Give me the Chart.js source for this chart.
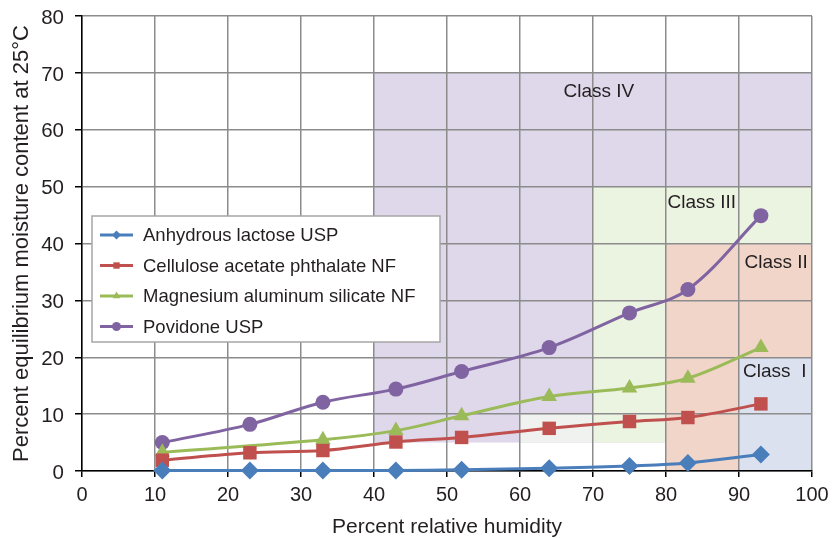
<!DOCTYPE html>
<html>
<head>
<meta charset="utf-8">
<script src="https://cdn.jsdelivr.net/npm/chart.js@4"></script>
<style>
  html, body { margin: 0; padding: 0; background: #fff; }
  #wrap { width: 832px; height: 538px; }
</style>
</head>
<body>
<div id="wrap"><canvas id="chart" width="832" height="538"></canvas></div>
<script>
// relative humidity (%) at which each sample was measured
const humidity = [11, 23, 33, 43, 52, 64, 75, 83, 93];

// equilibrium moisture content (%) at 25 °C
const lactose = [0.1, 0.1, 0.1, 0.1, 0.2, 0.5, 0.9, 1.4, 2.9];
const celluloseAcetate = [1.9, 3.2, 3.6, 5.1, 5.9, 7.5, 8.7, 9.4, 11.8];
const magnesiumSilicate = [3.3, null, 5.5, 7.1, 9.7, 13.1, 14.6, 16.3, 21.7];
const povidone = [5.0, 8.2, 12.1, 14.4, 17.5, 21.7, 27.8, 31.9, 44.9];

const seriesNames = [
  'Anhydrous lactose USP',
  'Cellulose acetate phthalate NF',
  'Magnesium aluminum silicate NF',
  'Povidone USP'
];

// hygroscopicity zones, in axis units (drawn in this order)
const zoneFromX = [40, 60, 70, 80, 90];
const zoneToX   = [100, 70, 100, 100, 100];
const zoneFromY = [5, 5, 5, 0, 0];
const zoneToY   = [70, 10, 50, 40, 20];
const zoneFill  = ['#dfd7ea', '#f0f2ef', '#ebf3e1', '#f1d5c9', '#dce1f0'];

const classNames = ['Class IV', 'Class III', 'Class II', 'Class  I'];
const classX = [70.8, 84.9, 95.1, 94.9];
const classY = [66.7, 47.1, 36.6, 17.4];

const xTicks = [0, 10, 20, 30, 40, 50, 60, 70, 80, 90, 100];
const yTicks = [0, 10, 20, 30, 40, 50, 60, 70, 80];

const FONT = '"Liberation Sans", Arial, Helvetica, sans-serif';
const TEXT = '#231f20';

const colors = ['#4a7ebb', '#c0504d', '#9bbb59', '#8064a2'];
const shapes = ['rectRot', 'rect', 'triangle', 'circle'];
const radii = [9, 9.5, 9, 7.5];

function series(i, data) {
  return {
    label: seriesNames[i],
    data: humidity.map((x, k) => ({ x: x, y: data[k] })),
    borderColor: colors[i],
    backgroundColor: colors[i],
    borderWidth: 3,
    pointStyle: shapes[i],
    pointRadius: radii[i],
    pointHoverRadius: radii[i],
    pointBorderWidth: 0,
    tension: 0.35,
    spanGaps: true,
    clip: false
  };
}

// coloured class zones under the grid
const zonesPlugin = {
  id: 'zones',
  beforeDraw(chart) {
    const { ctx, scales: { x, y } } = chart;
    ctx.save();
    for (let i = 0; i < zoneFill.length; i++) {
      const l = x.getPixelForValue(zoneFromX[i]);
      const r = x.getPixelForValue(zoneToX[i]);
      const t = y.getPixelForValue(zoneToY[i]);
      const b = y.getPixelForValue(zoneFromY[i]);
      ctx.fillStyle = zoneFill[i];
      ctx.fillRect(l, t, r - l, b - t);
    }
    ctx.restore();
  },
  beforeDatasetsDraw(chart) {
    const { ctx, scales: { x, y } } = chart;
    ctx.save();
    ctx.font = '19px ' + FONT;
    ctx.fillStyle = TEXT;
    ctx.textAlign = 'center';
    ctx.textBaseline = 'middle';
    classNames.forEach((name, i) => {
      ctx.fillText(name, x.getPixelForValue(classX[i]), y.getPixelForValue(classY[i]));
    });
    ctx.restore();
  }
};

// boxed legend sitting inside the plot
const boxLegend = {
  id: 'boxLegend',
  afterDatasetsDraw(chart) {
    const ctx = chart.ctx;
    const left = 92, top = 216, w = 348, h = 126;
    ctx.save();
    ctx.fillStyle = '#fff';
    ctx.fillRect(left, top, w, h);
    ctx.strokeStyle = '#a6a6a6';
    ctx.lineWidth = 1.5;
    ctx.strokeRect(left, top, w, h);
    ctx.font = '18.5px ' + FONT;
    ctx.textBaseline = 'middle';
    chart.data.datasets.forEach((ds, i) => {
      const yy = top + 19 + i * 30.5;
      ctx.strokeStyle = ds.borderColor;
      ctx.lineWidth = 3;
      ctx.beginPath();
      ctx.moveTo(100, yy);
      ctx.lineTo(133, yy);
      ctx.stroke();
      ctx.fillStyle = ds.backgroundColor;
      Chart.helpers.drawPoint(ctx, { pointStyle: ds.pointStyle, radius: 4.5, rotation: 0, borderWidth: 0 }, 116.5, yy);
      ctx.fillStyle = TEXT;
      ctx.fillText(ds.label, 143, yy + 1);
    });
    ctx.restore();
  }
};

new Chart(document.getElementById('chart'), {
  type: 'line',
  data: {
    datasets: [
      series(0, lactose),
      series(1, celluloseAcetate),
      series(2, magnesiumSilicate),
      series(3, povidone)
    ]
  },
  options: {
    responsive: false,
    devicePixelRatio: 1,
    animation: false,
    layout: { padding: { left: 8, right: 0, top: 0, bottom: 0 } },
    plugins: {
      legend: { display: false },
      tooltip: { enabled: false }
    },
    scales: {
      x: {
        type: 'linear',
        min: 0,
        max: 100,
        afterBuildTicks: s => { s.ticks = xTicks.map(v => ({ value: v })); },
        afterFit: s => { s.height = 67; s.paddingRight = 20; },
        ticks: { color: TEXT, font: { family: FONT, size: 20 }, padding: 6, maxRotation: 0 },
        grid: { color: '#8c8c8c', lineWidth: 1.5, tickLength: 6, tickColor: '#000' },
        border: { color: '#000', width: 1.5 },
        title: { display: true, text: 'Percent relative humidity', color: TEXT,
                 font: { family: FONT, size: 21, lineHeight: 1 }, padding: 0 }
      },
      y: {
        min: 0,
        max: 80,
        afterBuildTicks: s => { s.ticks = yTicks.map(v => ({ value: v })); },
        afterFit: s => { s.width = 74; s.paddingTop = 16; },
        ticks: { color: TEXT, font: { family: FONT, size: 20.5 }, padding: 11, labelOffset: 2 },
        grid: { color: '#8c8c8c', lineWidth: 1.5, tickLength: 7, tickColor: '#000' },
        border: { color: '#000', width: 1.5 },
        title: { display: true, text: 'Percent equilibrium moisture content at 25°C', color: TEXT,
                 font: { family: FONT, size: 22 }, padding: { top: 1, bottom: 0 } }
      }
    }
  },
  plugins: [zonesPlugin, boxLegend]
});
</script>
</body>
</html>
